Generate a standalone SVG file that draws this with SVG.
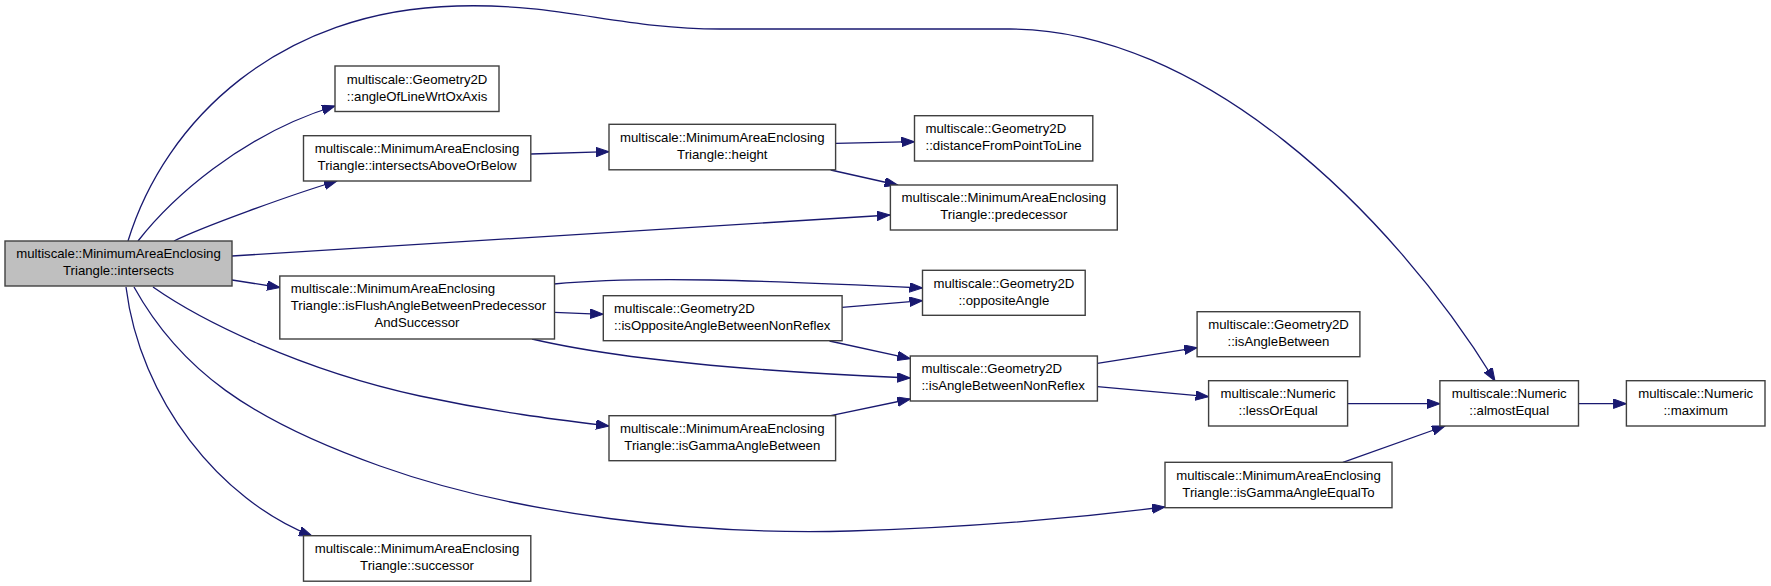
<svg xmlns="http://www.w3.org/2000/svg" width="1771" height="586" viewBox="0 0 1771 586">
<style>
  .n rect { fill: #ffffff; stroke: #404040; stroke-width: 1.4; }
  .n.main rect { fill: #bfbfbf; }
  .n text { font-family: "Liberation Sans", Arial, Helvetica, sans-serif; font-size: 13.2px; fill: #000000; }
  .c { text-anchor: middle; }
  .l { text-anchor: start; }
  .e path { fill: none; stroke: #191970; stroke-width: 1.3; marker-end: url(#arr); }
</style>
<defs>
  <marker id="arr" markerUnits="userSpaceOnUse" markerWidth="14" markerHeight="10" refX="13" refY="4.75" orient="auto">
    <path d="M0,0 L13,4.75 L0,9.5 z" fill="#191970" stroke="#191970" stroke-width="1"/>
  </marker>
</defs>
<rect width="1771" height="586" fill="#ffffff"/>
<g id="edges" class="e">
  <path d="M128,241 C165,120 280,10 457,6 C560,3 620,29 720,29 L1010,29 C1200,29 1390,210 1495,381"/>
  <path d="M138,241 C170,200 240,135 335,106"/>
  <path d="M174,241 C200,228 290,195 337,181"/>
  <path d="M232,256 L890,215"/>
  <path d="M232,280 L280,287.5"/>
  <path d="M153,287 C200,320 300,370 420,396 C500,413 560,420 609,426"/>
  <path d="M134,287 C180,370 250,420 380,466 C520,516 700,535 850,531 C950,528 1060,520 1165,507"/>
  <path d="M126,287 C140,400 220,500 312,536"/>
  <path d="M531,154 L609,151.7"/>
  <path d="M835.6,143.3 L914.5,141.7"/>
  <path d="M830.7,170 L897.6,185"/>
  <path d="M554,284 C640,276 760,280 922.5,288"/>
  <path d="M554.5,312.3 L603.3,314.3"/>
  <path d="M532,339 C600,355 720,370 910.3,378"/>
  <path d="M842,307.3 L922.5,300.7"/>
  <path d="M829.5,341 L910.3,358.7"/>
  <path d="M830.7,415.7 L910.3,399"/>
  <path d="M1097.4,363.3 L1197.1,347.7"/>
  <path d="M1097.4,386.7 L1208.6,396.7"/>
  <path d="M1347.6,403.7 L1440,403.7"/>
  <path d="M1578.5,403.7 L1626.4,403.7"/>
  <path d="M1342.9,462.3 L1445,426"/>
</g>
<g id="node-intersects" class="n main">
  <rect x="5" y="241" width="227" height="45"/>
  <text class="c" x="118.5" y="258.4">multiscale::MinimumAreaEnclosing</text>
  <text class="c" x="118.5" y="275.4">Triangle::intersects</text>
</g>
<g id="node-angleOfLineWrtOxAxis" class="n">
  <rect x="335" y="66" width="164" height="45.5"/>
  <text class="c" x="417" y="83.6">multiscale::Geometry2D</text>
  <text class="c" x="417" y="100.6">::angleOfLineWrtOxAxis</text>
</g>
<g id="node-intersectsAboveOrBelow" class="n">
  <rect x="303.5" y="135.7" width="227.3" height="45.3"/>
  <text class="c" x="417" y="153.3">multiscale::MinimumAreaEnclosing</text>
  <text class="c" x="417" y="170.3">Triangle::intersectsAboveOrBelow</text>
</g>
<g id="node-isFlushAngleBetweenPredecessorAndSuccessor" class="n">
  <rect x="279.8" y="276" width="274.7" height="63"/>
  <text class="l" x="290.7" y="293.2">multiscale::MinimumAreaEnclosing</text>
  <text class="l" x="290.7" y="310.2">Triangle::isFlushAngleBetweenPredecessor</text>
  <text class="c" x="417" y="327.2">AndSuccessor</text>
</g>
<g id="node-successor" class="n">
  <rect x="303.5" y="535.7" width="227.3" height="45.5"/>
  <text class="c" x="417" y="553.4">multiscale::MinimumAreaEnclosing</text>
  <text class="c" x="417" y="570.4">Triangle::successor</text>
</g>
<g id="node-height" class="n">
  <rect x="609" y="124.3" width="226.6" height="45.5"/>
  <text class="c" x="722.3" y="142">multiscale::MinimumAreaEnclosing</text>
  <text class="c" x="722.3" y="159">Triangle::height</text>
</g>
<g id="node-distanceFromPointToLine" class="n">
  <rect x="914.5" y="115.7" width="178.3" height="45.3"/>
  <text class="l" x="925.5" y="133.2">multiscale::Geometry2D</text>
  <text class="l" x="925.5" y="150.2">::distanceFromPointToLine</text>
</g>
<g id="node-predecessor" class="n">
  <rect x="890.4" y="185" width="226.9" height="45"/>
  <text class="c" x="1003.8" y="202.4">multiscale::MinimumAreaEnclosing</text>
  <text class="c" x="1003.8" y="219.4">Triangle::predecessor</text>
</g>
<g id="node-oppositeAngle" class="n">
  <rect x="922.5" y="270.3" width="162.7" height="45"/>
  <text class="c" x="1003.9" y="287.7">multiscale::Geometry2D</text>
  <text class="c" x="1003.9" y="304.7">::oppositeAngle</text>
</g>
<g id="node-isOppositeAngleBetweenNonReflex" class="n">
  <rect x="603.3" y="295.7" width="238.8" height="45"/>
  <text class="l" x="614.1" y="313.1">multiscale::Geometry2D</text>
  <text class="l" x="614.1" y="330.1">::isOppositeAngleBetweenNonReflex</text>
</g>
<g id="node-isAngleBetweenNonReflex" class="n">
  <rect x="910.3" y="356" width="187.1" height="45"/>
  <text class="l" x="921.4" y="373.4">multiscale::Geometry2D</text>
  <text class="l" x="921.4" y="390.4">::isAngleBetweenNonReflex</text>
</g>
<g id="node-isGammaAngleBetween" class="n">
  <rect x="609" y="415.7" width="226.6" height="45"/>
  <text class="c" x="722.3" y="433.1">multiscale::MinimumAreaEnclosing</text>
  <text class="c" x="722.3" y="450.1">Triangle::isGammaAngleBetween</text>
</g>
<g id="node-isAngleBetween" class="n">
  <rect x="1197.1" y="311.7" width="162.8" height="45"/>
  <text class="c" x="1278.5" y="329.1">multiscale::Geometry2D</text>
  <text class="c" x="1278.5" y="346.1">::isAngleBetween</text>
</g>
<g id="node-lessOrEqual" class="n">
  <rect x="1208.6" y="380.7" width="139" height="45.3"/>
  <text class="c" x="1278.1" y="398.2">multiscale::Numeric</text>
  <text class="c" x="1278.1" y="415.2">::lessOrEqual</text>
</g>
<g id="node-almostEqual" class="n">
  <rect x="1439.9" y="380.7" width="138.6" height="45.3"/>
  <text class="c" x="1509.2" y="398.2">multiscale::Numeric</text>
  <text class="c" x="1509.2" y="415.2">::almostEqual</text>
</g>
<g id="node-maximum" class="n">
  <rect x="1626.4" y="380.7" width="138.6" height="45.3"/>
  <text class="c" x="1695.7" y="398.2">multiscale::Numeric</text>
  <text class="c" x="1695.7" y="415.2">::maximum</text>
</g>
<g id="node-isGammaAngleEqualTo" class="n">
  <rect x="1165" y="462.3" width="227" height="45.4"/>
  <text class="c" x="1278.5" y="479.9">multiscale::MinimumAreaEnclosing</text>
  <text class="c" x="1278.5" y="496.9">Triangle::isGammaAngleEqualTo</text>
</g>
</svg>
